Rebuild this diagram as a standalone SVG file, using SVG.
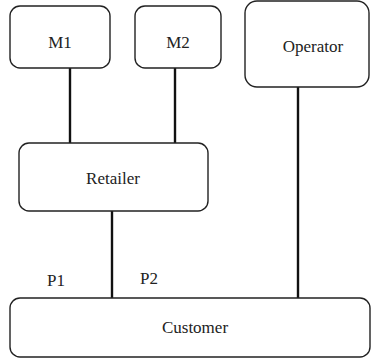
<svg xmlns="http://www.w3.org/2000/svg" width="371" height="362" viewBox="0 0 371 362">
<style>
.box{fill:#fff;stroke:#222;stroke-width:1.4}
.lbl{font-family:'Liberation Serif','Times New Roman',serif;font-size:17px;fill:#222;text-anchor:middle}
.con{stroke:#111;stroke-width:2.4;fill:none}
</style>
<rect width="371" height="362" fill="#fff"/>
<g id="connectors">
<line class="con" x1="70" y1="68" x2="70" y2="143"/>
<line class="con" x1="175" y1="68" x2="175" y2="143"/>
<line class="con" x1="112" y1="211" x2="112" y2="298"/>
<line class="con" x1="298" y1="87" x2="298" y2="298"/>
</g>
<g id="m1"><rect class="box" x="10" y="6" width="100" height="62" rx="10"/><text class="lbl" x="60" y="48">M1</text></g>
<g id="m2"><rect class="box" x="135" y="6" width="86" height="62" rx="10"/><text class="lbl" x="178" y="48">M2</text></g>
<g id="operator"><rect class="box" x="245" y="1" width="124" height="86" rx="12"/><text class="lbl" x="313" y="52">Operator</text></g>
<g id="retailer"><rect class="box" x="19" y="143" width="189" height="68" rx="10"/><text class="lbl" x="113" y="184">Retailer</text></g>
<g id="customer"><rect class="box" x="10" y="298" width="360" height="59" rx="10"/><text class="lbl" x="195" y="333">Customer</text></g>
<text class="lbl" x="56" y="286">P1</text>
<text class="lbl" x="149" y="284">P2</text>
</svg>
